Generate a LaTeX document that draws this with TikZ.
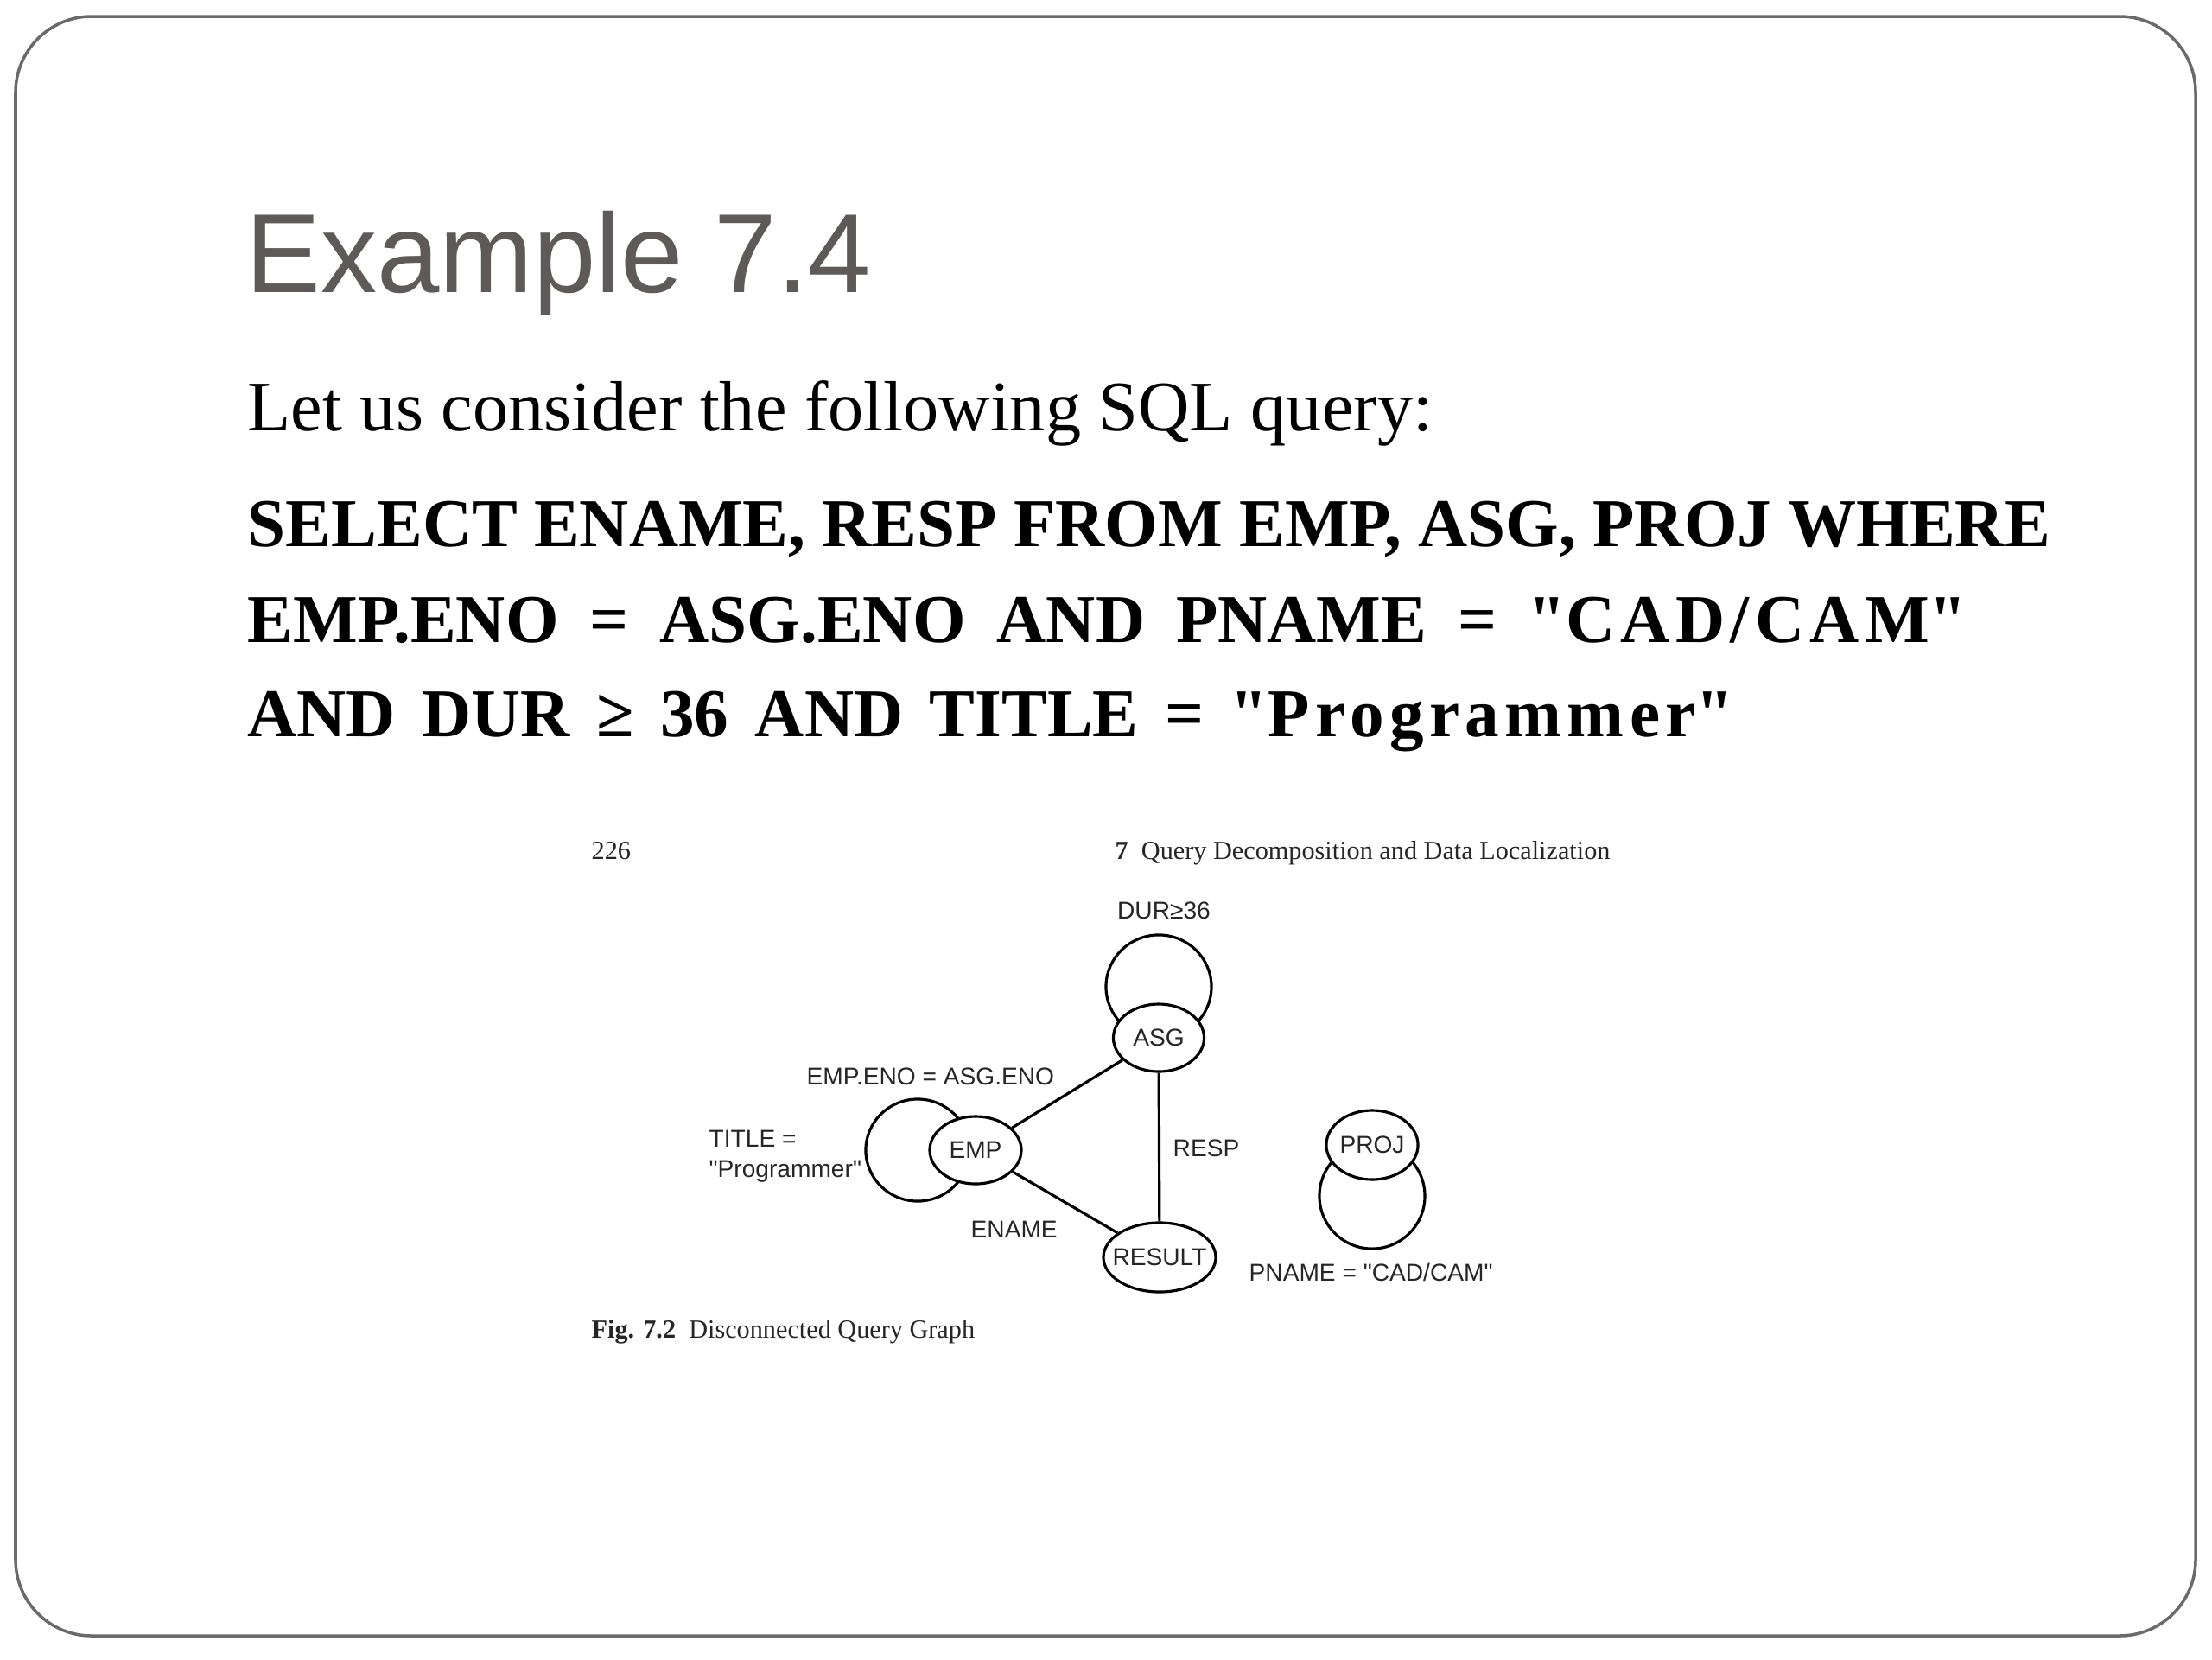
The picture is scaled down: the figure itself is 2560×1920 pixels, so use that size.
\documentclass[tikz,border=0pt]{standalone}
\usepackage{fontspec}
\setmainfont{Liberation Serif}
\setsansfont{Liberation Sans}
\usetikzlibrary{positioning,backgrounds,shapes.geometric}
\definecolor{cTitle}{HTML}{5E5A5A}
\definecolor{cFrame}{HTML}{6A6A6A}
\definecolor{cScan}{HTML}{262626}
\tikzset{
  title/.style={anchor=base west, inner sep=0pt, text=cTitle,
                font=\sffamily\fontsize{37}{44}\selectfont},
  body/.style={anchor=base west, inner sep=0pt, font=\fontsize{23.4}{28}\selectfont},
  sqlb/.style={anchor=base west, inner sep=0pt, font=\bfseries\fontsize{22.5}{27}\selectfont},
  page/.style={anchor=base west, inner sep=0pt, text=cScan, font=\fontsize{8.6}{10}\selectfont},
  lbl/.style={inner sep=0pt, text=cScan, font=\sffamily\fontsize{8}{9.7}\selectfont},
  rel/.style={ellipse, draw, line width=0.9pt, fill=white, lbl,
              minimum width=1.05cm, minimum height=0.78cm},
  ln/.style={line width=0.9pt},
  lp/.style={line width=0.9pt},
}
\newcommand{\cl}[1]{\makebox[0pt]{#1}}
\newcommand{\dq}{\XeTeXglyph\XeTeXcharglyph"22\relax}
\newcommand{\spc}[1]{{\addfontfeature{LetterSpace=8}#1}}

\begin{document}
\begin{tikzpicture}[x=0.01cm, y=-0.01cm]
    \useasboundingbox (0,0) rectangle (2560,1920);
    \draw[cFrame, line width=1pt, rounded corners=0.88cm] (18,19) rectangle (2541,1893);

    % slide text
    \node[title] (ttl)   at (284,338) {Example 7.4};
    \node[body]  (intro) at (286,498) {Let us consider the following SQL query:};
    \node[sqlb]  (q1)    at (286,632) {\makebox[20.85cm][s]{SELECT ENAME, RESP FROM EMP, ASG, PROJ WHERE}};
    \node[sqlb]  (q2)    at (286,743) {\makebox[19.89cm][s]{EMP.ENO = ASG.ENO AND PNAME = \spc{\dq CAD/CAM\dq}}};
    \node[sqlb]  (q3)    at (286,852) {\makebox[17.19cm][s]{AND DUR ≥ 36 AND TITLE = \spc{\dq Programmer\dq}}};

    % book page
    \node[page] (pg)  at (684,994)  {226};
    \node[page] (hd)  at (1290,994) {\textbf{7}\enspace Query Decomposition and Data Localization};
    \node[page] (cap) at (684,1548) {\textbf{Fig. 7.2}\enspace Disconnected Query Graph};

    % query graph
    \node[rel] (asg)  at (1341,1201) {ASG};
    \node[rel, minimum width=1.06cm] (emp) at (1129,1331) {EMP};
    \node[rel, minimum width=1.30cm, minimum height=0.80cm] (result) at (1342,1455) {\cl{RESULT}};
    \node[rel, minimum height=0.80cm] (proj) at (1588,1325) {PROJ};
    \draw[ln] (asg) -- (emp);
    \draw[ln] (emp) -- (result);
    \draw[ln] (asg) -- (result);

    \begin{scope}[on background layer]
      \fill[white] (0,0) rectangle (2560,1920);
      \draw[lp] ([yshift=0.59cm]asg.center) ellipse [x radius=0.61cm, y radius=0.60cm];
      \draw[lp] ([xshift=-0.67cm]emp.center) ellipse [x radius=0.60cm, y radius=0.59cm];
      \draw[lp] ([yshift=-0.59cm]proj.center) ellipse [x radius=0.61cm, y radius=0.61cm];
    \end{scope}

    \node[lbl, anchor=base]      (dur)   at (1347,1063) {DUR≥36};
    \node[lbl, anchor=base west] (join)  at (933,1255)  {EMP.ENO = ASG.ENO};
    \node[lbl, anchor=base west, align=left] (title) at (820,1362) {TITLE =\\\dq Programmer\dq};
    \node[lbl, anchor=base west] (resp)  at (1357,1338) {RESP};
    \node[lbl, anchor=base west] (ename) at (1123,1432) {ENAME};
    \node[lbl, anchor=base west] (pname) at (1445,1482) {PNAME = \dq CAD/CAM\dq};
\end{tikzpicture}
\end{document}
